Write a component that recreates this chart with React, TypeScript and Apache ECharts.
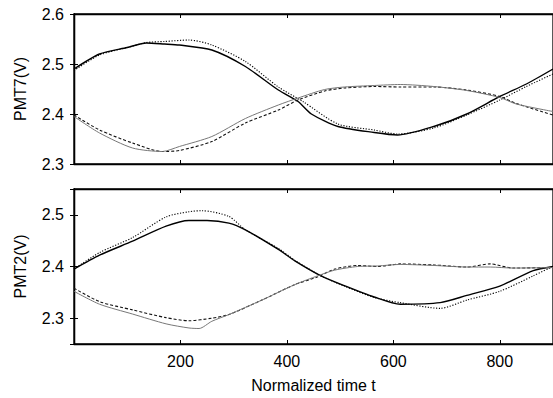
import React, { useEffect, useRef } from "react";
import * as echarts from "echarts";

// Normalized time sample points and PMT voltages
const topSolidX = [0, 48, 100, 136, 170, 198, 259, 322, 384, 421, 446, 496, 564, 608, 676, 738, 800, 850, 900];
const topSolidY = [2.49, 2.52, 2.533, 2.542, 2.54, 2.538, 2.528, 2.495, 2.448, 2.425, 2.4, 2.375, 2.363, 2.358, 2.375, 2.4, 2.435, 2.46, 2.49];
const topDottedX = [0, 48, 100, 136, 170, 216, 259, 322, 384, 430, 496, 564, 608, 676, 738, 800, 850, 900];
const topDottedY = [2.487, 2.518, 2.533, 2.543, 2.545, 2.548, 2.538, 2.505, 2.454, 2.425, 2.38, 2.368, 2.36, 2.372, 2.398, 2.428, 2.455, 2.48];
const topDashedX = [0, 48, 110, 166, 198, 259, 322, 384, 421, 471, 508, 564, 613, 676, 738, 800, 831, 900];
const topDashedY = [2.398, 2.368, 2.342, 2.325, 2.327, 2.345, 2.382, 2.408, 2.428, 2.446, 2.452, 2.455, 2.454, 2.454, 2.448, 2.435, 2.421, 2.398];
const topGrayX = [0, 48, 110, 166, 198, 259, 322, 384, 421, 471, 508, 564, 613, 676, 738, 800, 831, 900];
const topGrayY = [2.395, 2.362, 2.332, 2.325, 2.335, 2.355, 2.391, 2.418, 2.432, 2.449, 2.454, 2.457, 2.459, 2.455, 2.447, 2.433, 2.42, 2.405];

const botSolidX = [0, 48, 110, 173, 216, 250, 291, 322, 384, 415, 464, 508, 564, 613, 688, 738, 800, 863, 900];
const botSolidY = [2.395, 2.422, 2.449, 2.478, 2.489, 2.489, 2.484, 2.471, 2.433, 2.411, 2.382, 2.363, 2.341, 2.327, 2.33, 2.344, 2.362, 2.392, 2.4];
const botDottedX = [0, 48, 110, 173, 216, 240, 291, 322, 384, 415, 464, 508, 564, 613, 688, 738, 800, 863, 900];
const botDottedY = [2.395, 2.427, 2.456, 2.496, 2.506, 2.508, 2.497, 2.471, 2.435, 2.412, 2.382, 2.362, 2.34, 2.33, 2.319, 2.335, 2.352, 2.382, 2.4];
const botDashedX = [0, 48, 110, 173, 216, 259, 291, 353, 415, 458, 490, 533, 570, 613, 676, 738, 782, 825, 900];
const botDashedY = [2.358, 2.332, 2.316, 2.301, 2.295, 2.3, 2.307, 2.335, 2.365, 2.38, 2.395, 2.402, 2.4, 2.405, 2.403, 2.399, 2.405, 2.397, 2.398];
const botGrayX = [0, 48, 110, 173, 216, 235, 259, 291, 353, 415, 458, 490, 533, 570, 613, 676, 738, 782, 825, 900];
const botGrayY = [2.352, 2.327, 2.308, 2.289, 2.281, 2.28, 2.294, 2.307, 2.335, 2.365, 2.382, 2.393, 2.4, 2.401, 2.404, 2.402, 2.399, 2.399, 2.397, 2.398];

const xTicks = [200, 400, 600, 800];
const topYLabel = "PMT7(V)";
const botYLabel = "PMT2(V)";
const xLabel = "Normalized time t";

const zip = (xs: number[], ys: number[]) => xs.map((x, i) => [x, ys[i]]);

const FONT = "'Liberation Sans', Arial, Helvetica, sans-serif";
const FS = 16;

export default function App() {
  const ref = useRef<HTMLDivElement>(null);
  useEffect(() => {
    if (!ref.current) return;
    const chart = echarts.init(ref.current, null, { renderer: "svg" });
    const axisColor = "#000";
    const tickFmt = (v: number) =>
      Math.abs(v * 10 - Math.round(v * 10)) < 1e-6 ? v.toFixed(1) : "";
    const xBase = (gridIndex: number, position: "bottom" | "top", showLabel: boolean, withName: boolean) => ({
      type: "value" as const,
      gridIndex,
      position,
      min: 0,
      max: 900,
      interval: 200,
      name: withName ? xLabel : "",
      nameLocation: "middle" as const,
      nameGap: 33,
      nameTextStyle: { fontFamily: FONT, fontSize: FS, color: "#000" },
      axisLine: { show: true, lineStyle: { color: axisColor, width: 1.3 } },
      axisTick: {
        show: true,
        inside: true,
        length: 4,
        lineStyle: { color: axisColor, width: 1 },
        customValues: xTicks,
      },
      axisLabel: {
        show: showLabel,
        fontFamily: FONT,
        fontSize: FS,
        color: "#000",
        margin: 9,
        customValues: xTicks,
        formatter: (v: number) => (xTicks.includes(v) ? String(v) : ""),
      },
      splitLine: { show: false },
    });
    const yBase = (
      gridIndex: number,
      position: "left" | "right",
      min: number,
      max: number,
      showLabel: boolean,
      name: string
    ) => ({
      type: "value" as const,
      gridIndex,
      position,
      min,
      max,
      splitNumber: 3,
      name,
      nameLocation: "middle" as const,
      nameGap: 46,
      nameTextStyle: { fontFamily: FONT, fontSize: FS, color: "#000" },
      axisLine: { show: true, lineStyle: { color: axisColor, width: 1.3 } },
      axisTick: { show: true, inside: true, length: 4, lineStyle: { color: axisColor, width: 1 } },
      axisLabel: {
        show: showLabel,
        fontFamily: FONT,
        fontSize: FS,
        color: "#000",
        margin: 10,
        formatter: tickFmt,
      },
      splitLine: { show: false },
    });

    const mk = (
      name: string,
      data: number[][],
      xi: number,
      yi: number,
      color: string,
      width: number,
      type: any
    ) => ({
      name,
      type: "line" as const,
      xAxisIndex: xi,
      yAxisIndex: yi,
      data,
      showSymbol: false,
      symbol: "none",
      smooth: 0.25,
      lineStyle: { color, width, type },
      z: 3,
    });

    chart.setOption({
      animation: false,
      backgroundColor: "#fff",
      grid: [
        { left: 74, right: -3, top: 14, height: 150, show: true, borderColor: "#000", borderWidth: 1.3, backgroundColor: "transparent" },
        { left: 74, right: -3, top: 189, height: 155, show: true, borderColor: "#000", borderWidth: 1.3, backgroundColor: "transparent" },
      ],
      xAxis: [
        xBase(0, "bottom", false, false),
        xBase(0, "top", false, false),
        xBase(1, "bottom", true, true),
        xBase(1, "top", false, false),
      ],
      yAxis: [
        { ...yBase(0, "left", 2.3, 2.6, true, topYLabel), interval: 0.1 },
        { ...yBase(0, "right", 2.3, 2.6, false, ""), interval: 0.1 },
        yBase(1, "left", 2.25, 2.55, true, botYLabel),
        yBase(1, "right", 2.25, 2.55, false, ""),
      ],
      series: [
        mk("top-solid", zip(topSolidX, topSolidY), 0, 0, "#000", 1.4, "solid"),
        mk("top-dotted", zip(topDottedX, topDottedY), 0, 0, "#000", 1.1, [1.2, 1.6]),
        mk("top-dashed", zip(topDashedX, topDashedY), 0, 0, "#111", 1.1, [3, 2]),
        mk("top-gray", zip(topGrayX, topGrayY), 0, 0, "#777", 1, "solid"),
        mk("bot-solid", zip(botSolidX, botSolidY), 2, 2, "#000", 1.4, "solid"),
        mk("bot-dotted", zip(botDottedX, botDottedY), 2, 2, "#000", 1.1, [1.2, 1.6]),
        mk("bot-dashed", zip(botDashedX, botDashedY), 2, 2, "#111", 1.1, [3, 2]),
        mk("bot-gray", zip(botGrayX, botGrayY), 2, 2, "#777", 1, "solid"),
      ],
    });
    return () => chart.dispose();
  }, []);
  return (
    <div
      ref={ref}
      style={{ position: "fixed", left: 0, top: 0, width: 553, height: 398, background: "#fff" }}
    />
  );
}
